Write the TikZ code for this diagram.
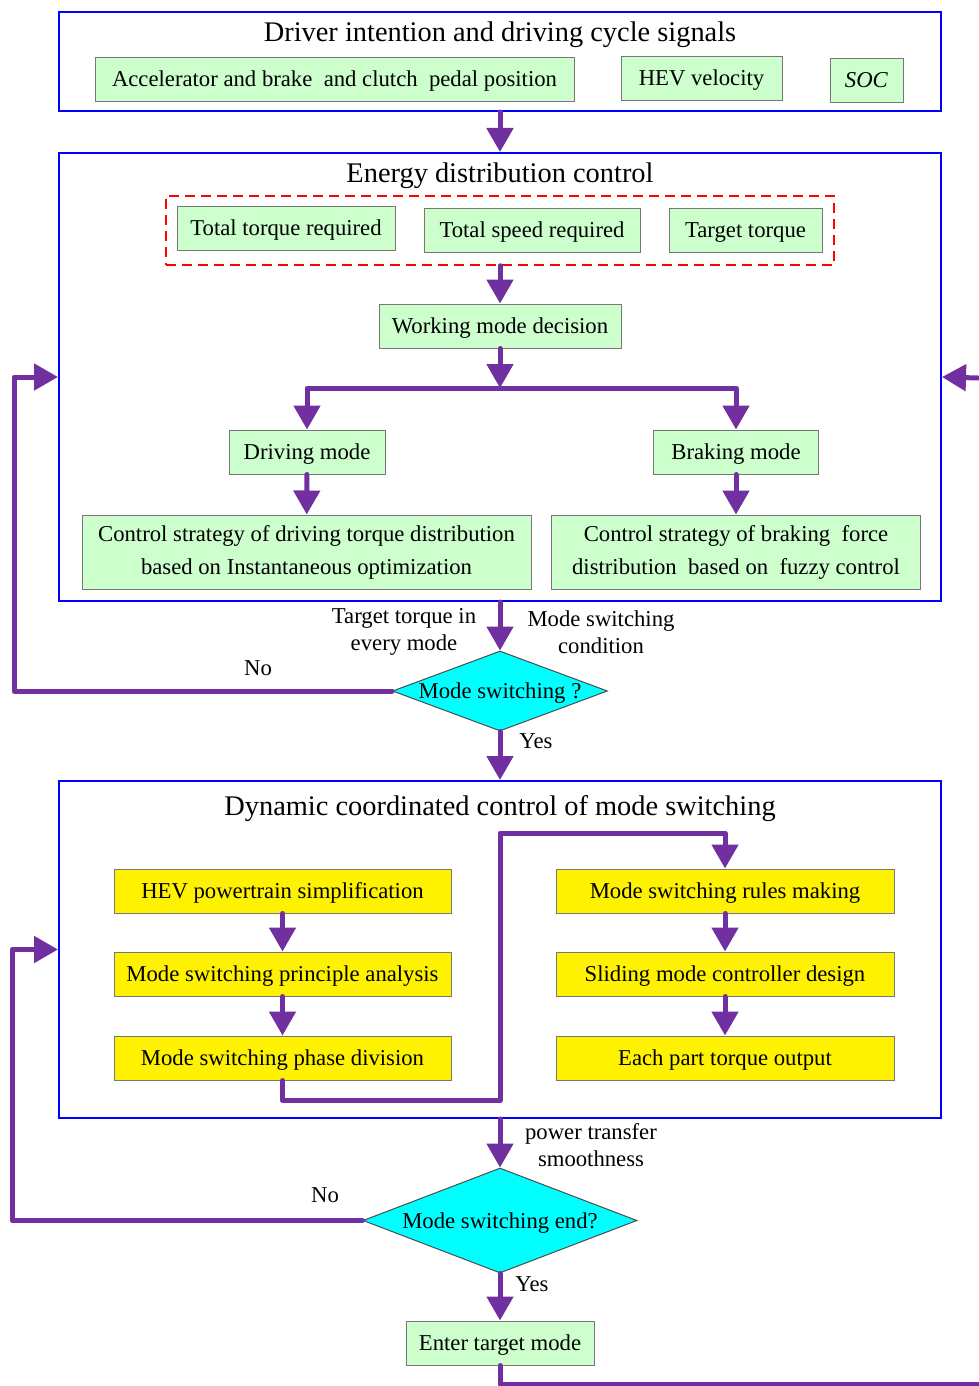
\documentclass[tikz,border=0pt]{standalone}
\usepackage{fontspec}
\setmainfont{Liberation Serif}
\usepackage{xcolor}
\usetikzlibrary{arrows.meta,shapes.geometric}

\definecolor{boxgreen}{RGB}{204,255,204}
\definecolor{flowpurple}{RGB}{112,48,160}
\definecolor{boxedge}{RGB}{120,120,120}
\definecolor{decidecyan}{RGB}{0,255,255}

\begin{document}
\begin{tikzpicture}[x=1pt,y=-1pt,
	frame/.style={draw=blue, line width=2pt, inner sep=0pt},
	tbox/.style={draw=boxedge, fill=boxgreen, line width=1pt, inner sep=0pt,
		minimum height=44pt, align=center, font=\fontsize{22.7}{33}\selectfont},
	gbox/.style={tbox, text height=19pt, text depth=5pt},
	ybox/.style={gbox, fill=yellow, minimum width=337pt},
	head/.style={font=\fontsize{28.4}{32}\selectfont},
	note/.style={align=center, font=\fontsize{22.7}{27}\selectfont},
	decide/.style={diamond, draw=black!70, fill=decidecyan, line width=1pt, inner sep=0pt},
	flow/.style={color=flowpurple, line width=5pt, line join=round, line cap=round},
	>={Triangle[length=24pt,width=26pt]}]
	\useasboundingbox (0,0) rectangle (978,1386);
	%
	% driver signals
	\node[frame, minimum width=882pt, minimum height=99pt] (sig) at (500,61.5) {};
	\node[head] (sigt) at (500,35) {Driver intention and driving cycle signals};
	\node[gbox, minimum width=479pt] (acc) at (334.5,79.5) {Accelerator and brake~ and clutch~ pedal position};
	\node[gbox, minimum width=161pt] (vel) at (701.5,79) {HEV velocity};
	\node[gbox, minimum width=73pt] (soc) at (866.5,81) {\textit{SOC}};
	%
	% energy distribution control
	\node[frame, minimum width=882pt, minimum height=448pt] (energy) at (500,377) {};
	\node[head] (energyt) at (500,176) {Energy distribution control};
	\node[draw=red, line width=1.5pt, dash pattern=on 10pt off 6pt,
		minimum width=668pt, minimum height=69pt] (sel) at (500,230.5) {};
	\node[gbox, minimum width=218pt] (ttr) at (286,228) {Total torque required};
	\node[gbox, minimum width=216pt] (tsr) at (532,230.5) {Total speed required};
	\node[gbox, minimum width=153pt] (tt) at (745.5,230.5) {Target torque};
	\node[gbox, minimum width=242pt] (wmd) at (500,326) {Working mode decision};
	\coordinate (split) at (500,388);
	\node[gbox, minimum width=156pt] (dm) at (307,452) {Driving mode};
	\node[gbox, minimum width=165pt] (bm) at (736,452) {Braking mode};
	\node[tbox, minimum width=449pt, minimum height=74pt] (cl) at (306.5,552)
		{Control strategy of driving torque distribution\\based on Instantaneous optimization};
	\node[tbox, minimum width=369pt, minimum height=74pt] (cr) at (736,552)
		{Control strategy of braking~ force\\distribution~ based on~ fuzzy control};
	%
	% first decision
	\node[decide, minimum width=215pt, minimum height=80pt,
		label={[note, yshift=-2pt]center:Mode switching ?}] (sw) at (500,691) {};
	\node[note] (tl) at (404,632) {Target torque in\\every mode};
	\node[note] (tr) at (601,632) {Mode switching\\condition};
	\node[note] (no1) at (258,668) {No};
	\node[note] (yes1) at (536,741) {Yes};
	%
	% dynamic coordinated control
	\node[frame, minimum width=882pt, minimum height=337pt] (dyn) at (500,949.5) {};
	\node[head] (dynt) at (500,809) {Dynamic coordinated control of mode switching};
	\node[ybox] (ps) at (282.5,891) {HEV powertrain simplification};
	\node[ybox] (pa) at (282.5,974) {Mode switching principle analysis};
	\node[ybox] (pd) at (282.5,1058) {Mode switching phase division};
	\node[ybox, minimum width=338pt] (rm) at (725,891) {Mode switching rules making};
	\node[ybox, minimum width=338pt] (sm) at (725,974) {Sliding mode controller design};
	\node[ybox, minimum width=338pt] (to) at (725,1058) {Each part torque output};
	%
	% second decision
	\node[decide, minimum width=274pt, minimum height=105pt,
		label={[note, yshift=-3pt]center:Mode switching end?}] (ed) at (500,1220.5) {};
	\node[note] (pt) at (591,1145) {power transfer\\smoothness};
	\node[note] (no2) at (325,1195) {No};
	\node[note] (yes2) at (532,1284) {Yes};
	\node[gbox, minimum width=188pt] (enter) at (500,1343) {Enter target mode};
	%
	\coordinate (rt) at (978,378);
	\coordinate (rb) at (978,1384);
	%
	\path[flow,->]
		(sig) edge (energy)
		(sel) edge (wmd)
		(dm) edge (cl)
		(bm) edge (cr)
		(energy) edge (sw)
		(sw) edge (dyn)
		(ps) edge (pa)
		(pa) edge (pd)
		(rm) edge (sm)
		(sm) edge (to)
		(dyn) edge (ed)
		(ed) edge (enter);
	%
	\draw[flow,->] (wmd.south) -- (split);
	\draw[flow,->] (split) -| (dm.north);
	\draw[flow,->] (split) -| (bm.north);
	\draw[flow,->] (sw.west) -- (14,691) |- (energy.west);
	\draw[flow,->] (pd.south) -- ++(0,20) -| (500,833) -| (rm.north);
	\draw[flow,->] (ed.west) -- (12,1220.5) |- (dyn.west);
	\draw[flow] (enter.south) |- (rb);
	\draw[flow,->] (rt) -- (energy.east);
\end{tikzpicture}
\end{document}
